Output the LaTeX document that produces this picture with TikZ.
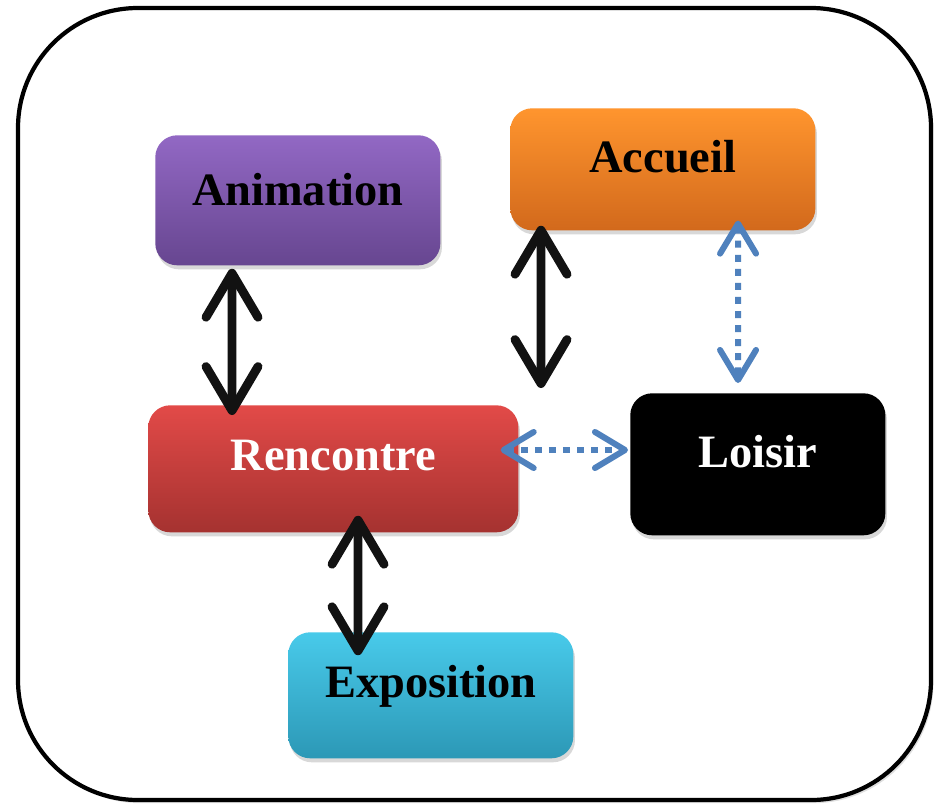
\documentclass[tikz,border=0pt]{standalone}
\usepackage{fontspec}
\setmainfont{Liberation Serif}
\usetikzlibrary{arrows.meta, positioning, shadows}

\definecolor{animtop}{HTML}{9268C4}
\definecolor{animbot}{HTML}{674690}
\definecolor{acctop}{HTML}{FF952E}
\definecolor{accbot}{HTML}{D2691C}
\definecolor{rentop}{HTML}{E24A48}
\definecolor{renbot}{HTML}{A53230}
\definecolor{expotop}{HTML}{48CAEA}
\definecolor{expobot}{HTML}{2C98B6}
\definecolor{linkblue}{HTML}{4F81BD}

\begin{document}
\begin{tikzpicture}[
            x=0.025cm, y=-0.025cm,
            every node/.style={font=\fontsize{33}{36}\selectfont\bfseries},
            box/.style={
                    rounded corners=0.55cm,
                    inner xsep=0pt,
                    inner ysep=0pt,
                    align=center,
                    anchor=north west,
                    drop shadow={shadow xshift=0.04cm, shadow yshift=-0.1cm, opacity=0.3}
                },
            solidarrow/.style={
                    {Straight Barb[length=1.1cm,width=1.3cm,round]}-{Straight Barb[length=1.1cm,width=1.3cm,round]},
                    line width=6.3pt,
                    black!93
                },
            dotarrow/.style={
                    {Straight Barb[length=0.75cm,width=0.9cm,round]}-{Straight Barb[length=0.75cm,width=0.9cm,round]},
                    line width=4.3pt,
                    dash pattern=on 5pt off 5pt,
                    linkblue
                }
        ]

        \useasboundingbox (0,0) rectangle (939,808);

        % outer frame
        \draw[line width=3pt, rounded corners=3cm, fill=white,
            drop shadow={shadow xshift=0.06cm, shadow yshift=-0.08cm, opacity=0.25}]
            (18,8) rectangle (931,800);

        \node[box, top color=animtop, bottom color=animbot, text=black,
            text width=7.125cm, text height=1.75cm, text depth=1.5cm] (anim) at (155,135)
        {Animation};

        \node[box, top color=acctop, bottom color=accbot, text=black,
            text width=7.625cm, text height=1.6cm, text depth=1.45cm] (accueil) at (510,108)
        {Accueil};

        \node[box, top color=rentop, bottom color=renbot, text=white,
            text width=9.25cm, text height=1.625cm, text depth=1.55cm] (rencontre) at (148,405)
        {Rencontre};

        \node[box, fill=black, text=white,
            text width=6.375cm, text height=1.85cm, text depth=1.7cm] (loisir) at (630,393)
        {Loisir};

        \node[box, top color=expotop, bottom color=expobot, text=black,
            text width=7.125cm, text height=1.625cm, text depth=1.525cm] (expo) at (288,632)
        {Exposition};

        \coordinate (accend) at (541,388);
        \coordinate (midrow) at (0,450);

        \draw[solidarrow, shorten <=0.08cm, shorten >=-0.25cm]
            ([xshift=1.925cm]anim.south west) -- ([xshift=2.1cm]rencontre.north west);
        \draw[solidarrow, shorten <=-0.12cm]
            ([xshift=0.775cm]accueil.south west) -- (accend);
        \draw[dotarrow, shorten <=-0.25cm, shorten >=0.25cm]
            ([xshift=5.7cm]accueil.south west) -- ([xshift=2.7cm]loisir.north west);
        \draw[dotarrow, shorten <=-0.45cm, shorten >=0.05cm]
            (rencontre.east |- midrow) -- (loisir.west |- midrow);
        \draw[solidarrow, shorten <=-0.42cm, shorten >=-0.58cm]
            ([xshift=5.25cm]rencontre.south west) -- ([xshift=1.75cm]expo.north west);

    \end{tikzpicture}
\end{document}
